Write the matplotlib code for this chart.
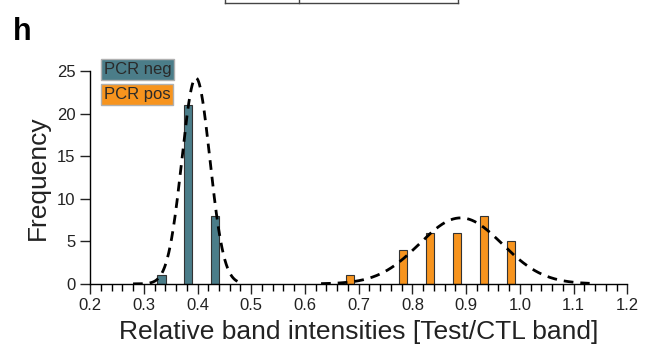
import numpy as np
import matplotlib.pyplot as plt
from matplotlib.ticker import MultipleLocator

plt.rcParams['font.family'] = ['Liberation Sans', 'DejaVu Sans']

# histogram bars (bin centres and counts)
neg_x = [0.333, 0.383, 0.433]
neg_n = [1, 21, 8]
pos_x = [0.683, 0.783, 0.833, 0.883, 0.933, 0.983]
pos_n = [1, 4, 6, 6, 8, 5]

# fitted gaussians: peak, mean, sigma, drawn range
neg_fit = [24.2, 0.397, 0.026, 0.28, 0.475]
pos_fit = [7.75, 0.89, 0.077, 0.63, 1.13]

teal = '#4b7d89'
orange = '#f7941e'

fig = plt.figure(figsize=(6.48, 3.5), dpi=100)
ax = fig.add_axes([0.139, 0.189, 0.829, 0.608])

ax.bar(neg_x, neg_n, width=0.015, color=teal, edgecolor='#333333', lw=0.8, zorder=2)
ax.bar(pos_x, pos_n, width=0.015, color=orange, edgecolor='#333333', lw=0.8, zorder=2)

for a, mu, sd, lo, hi in [neg_fit, pos_fit]:
    xs = np.linspace(lo, hi, 300)
    ax.plot(xs, a * np.exp(-(xs - mu) ** 2 / (2 * sd ** 2)), ls=(0, (3.5, 2.5)),
            color='black', lw=2, zorder=3)

ax.set_xlim(0.2, 1.2)
ax.set_ylim(0, 25)
ax.xaxis.set_major_locator(MultipleLocator(0.1))
ax.xaxis.set_minor_locator(MultipleLocator(0.02))
ax.yaxis.set_major_locator(MultipleLocator(5))
ax.set_xticklabels([f'{v:.1f}' for v in ax.get_xticks()])
for s in ['top', 'right']:
    ax.spines[s].set_visible(False)
for s in ['left', 'bottom']:
    ax.spines[s].set_linewidth(1)
ax.tick_params(axis='both', which='major', labelsize=12, length=7, width=1,
               color='#222222', labelcolor='#222222')
ax.tick_params(axis='x', which='minor', length=5, width=1)
ax.set_xlabel('Relative band intensities [Test/CTL band]', fontsize=19, color='#222222', labelpad=5)
ax.set_ylabel('Frequency', fontsize=19, color='#222222', labelpad=5)

# legend boxes
ax.text(0.025, 1.009, 'PCR neg', transform=ax.transAxes, fontsize=12, color='#2a2a2a',
        va='center', bbox=dict(boxstyle='square,pad=0.18', fc=teal, ec='#b0b0b0', lw=1))
ax.text(0.025, 0.892, 'PCR pos', transform=ax.transAxes, fontsize=12, color='#2a2a2a',
        va='center', bbox=dict(boxstyle='square,pad=0.18', fc=orange, ec='#b0b0b0', lw=1))

fig.text(0.02, 0.885, 'h', fontsize=22, fontweight='bold')

# fragment of the panel above
y0 = 1 - 3 / 350
fig.add_artist(plt.Line2D([225 / 648, 458 / 648], [y0, y0], color='#444444', lw=1))
for xp in [225, 299, 458]:
    fig.add_artist(plt.Line2D([xp / 648, xp / 648], [y0, 1], color='#444444', lw=1))

fig.savefig('out.png', dpi=100)
